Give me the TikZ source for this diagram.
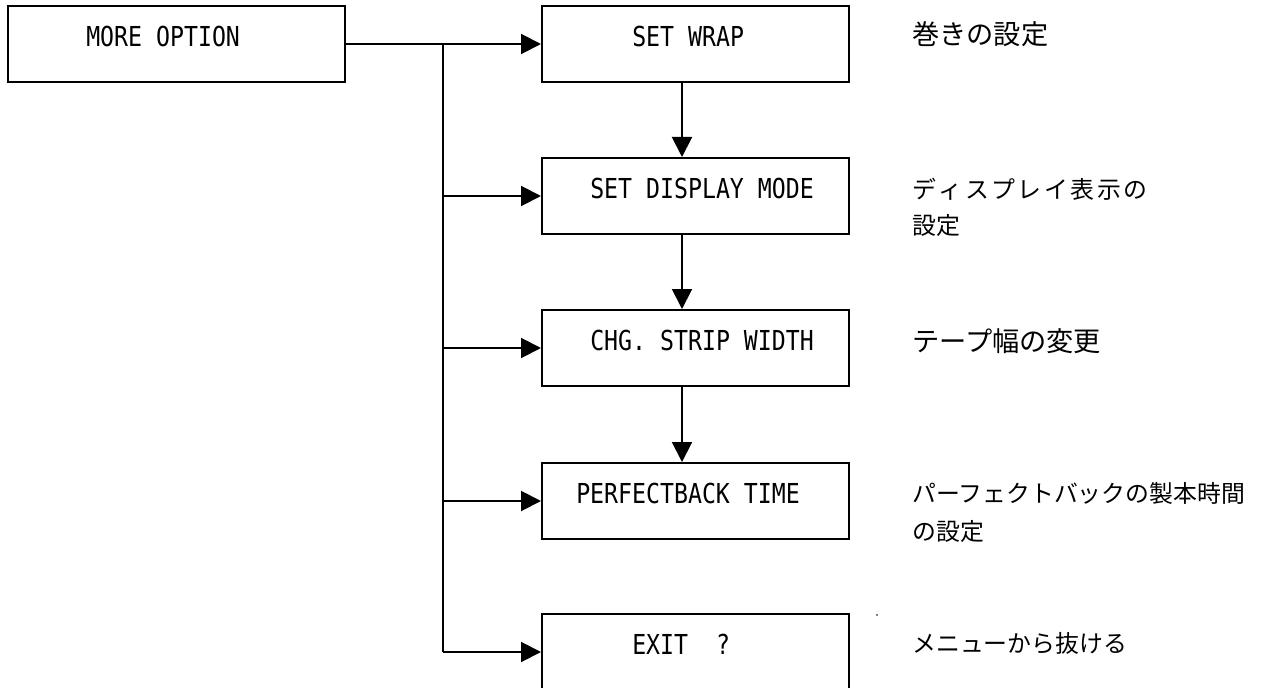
\documentclass[tikz,border=0pt]{standalone}
\usepackage{fontspec}
\newfontfamily\monofnt[FakeStretch=0.845]{DejaVu Sans Mono}
\newfontfamily\jpfnt{Noto Sans CJK JP}
\usetikzlibrary{arrows.meta,calc}
\begin{document}
\begin{tikzpicture}[x=0.75pt,y=-0.75pt,
  box/.style={draw, line width=1.5pt, inner sep=0pt, minimum height=57pt},
  lbox/.style={box, minimum width=252.75pt},
  rbox/.style={box, minimum width=230.25pt},
  arr/.style={-{Triangle[length=15pt,width=15pt]}, line width=1.5pt},
  ln/.style={line width=1.5pt},
  lat/.style={font=\monofnt\fontsize{20.6pt}{22pt}\selectfont, anchor=base west, inner sep=0pt},
  jpbig/.style={font=\jpfnt\fontsize{20.4pt}{24pt}\selectfont, anchor=base west, inner sep=0pt},
  jpsmall/.style={font=\jpfnt\fontsize{17.9pt}{22pt}\selectfont, anchor=base west, inner sep=0pt}]
\clip (0,0) rectangle (1266,688);
% boxes
\node[lbox] (more) at (176.5,44) {};
\node[rbox] (wrap) at (695.5,44) {};
\node[rbox] (disp) at (695.5,196) {};
\node[rbox] (chg) at (695.5,348) {};
\node[rbox] (perf) at (695.5,501) {};
\node[rbox] (exit) at (695.5,652) {};
% box texts
\node[lat] (tmore) at (86,46.5) {MORE OPTION};
\node[lat] (twrap) at (632,46.5) {SET WRAP};
\node[lat] (tdisp) at (590,198.5) {SET DISPLAY MODE};
\node[lat] (tchg) at (590,350.5) {CHG. STRIP WIDTH};
\node[lat] (tperf) at (576,503.5) {PERFECTBACK TIME};
\node[lat] (texit) at (632,654.5) {EXIT\ \ ?};
% connectors
\coordinate (j) at (443,44);
\draw[arr] (more.east) -- (wrap.west);
\draw[ln] (j) -- (j |- exit.west);
\draw[arr] (j |- disp.west) -- (disp.west);
\draw[arr] (j |- chg.west) -- (chg.west);
\draw[arr] (j |- perf.west) -- (perf.west);
\draw[arr] (j |- exit.west) -- (exit.west);
\draw[arr] ($(wrap.south)+(-13.5,0)$) -- ($(disp.north)+(-13.5,0)$);
\draw[arr] ($(disp.south)+(-13.5,0)$) -- ($(chg.north)+(-13.5,0)$);
\draw[arr] ($(chg.south)+(-13.5,0)$) -- ($(perf.north)+(-13.5,0)$);
% Japanese notes
\node[jpbig] (n1) at (912,45) {巻きの設定};
\node[jpsmall] (n2a) at (912,198) {デ\kern1.9pt ィ\kern1.9pt ス\kern1.9pt プ\kern1.9pt レ\kern1.9pt イ\kern1.9pt 表\kern1.9pt 示\kern1.9pt の};
\node[jpsmall] (n2b) at (912,234) {設定};
\node[jpbig] (n3) at (912,351) {テープ幅の変更};
\node[jpsmall] (n4a) at (912,502) {パーフェクトバックの製本時間};
\node[jpsmall] (n4b) at (912,540) {の設定};
\node[jpsmall] (n5) at (912,652) {メニューから抜ける};
\fill (877,615) circle (0.9);
\end{tikzpicture}
\end{document}
